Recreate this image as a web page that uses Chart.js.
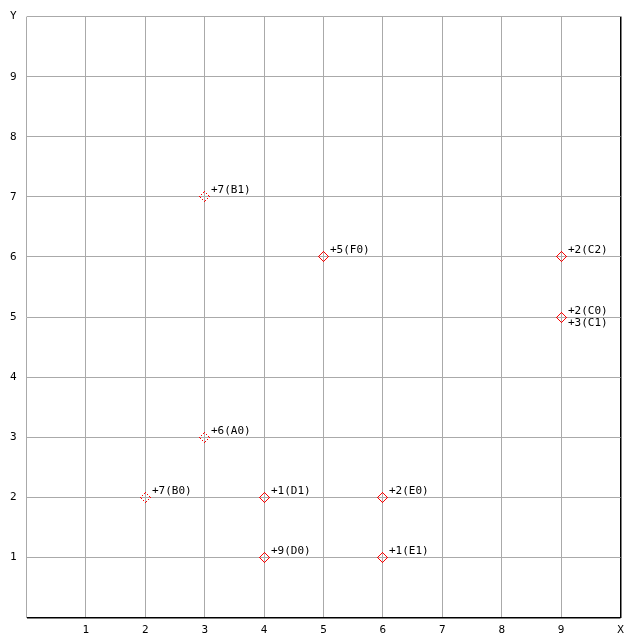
<!DOCTYPE html>
<html>
<head>
<meta charset="utf-8">
<script src="https://cdn.jsdelivr.net/npm/chart.js@4"></script>
<style>
  html, body { margin: 0; padding: 0; background: #fff; }
  #wrap { width: 640px; height: 640px; }
</style>
</head>
<body>
<div id="wrap"><canvas id="chart"></canvas></div>
<script>
// points
const pointNames = ['A0', 'B0', 'B1', 'C0', 'C1', 'C2', 'D0', 'D1', 'E0', 'E1', 'F0'];
const xValues = [3, 2, 3, 9, 9, 9, 4, 4, 6, 6, 5];
const yValues = [3, 2, 7, 5, 5, 6, 1, 2, 2, 1, 6];
const counts = [6, 7, 7, 2, 3, 2, 9, 1, 2, 1, 5];

const xTickLabels = ['', '1', '2', '3', '4', '5', '6', '7', '8', '9', 'X'];
const yTickLabels = ['', '1', '2', '3', '4', '5', '6', '7', '8', '9', 'Y'];

// groups drawn with the dotted marker
const dottedGroups = ['A', 'B'];

const FONT = { family: '"DejaVu Sans Mono", monospace', size: 11 };
const GRID = '#aaaaaa';

// small pixel diamond used as marker
function diamond(r, dotted) {
  const c = document.createElement('canvas');
  c.width = c.height = 2 * r + 1;
  const g = c.getContext('2d');
  g.fillStyle = '#ff0000';
  const put = (px, py, i) => {
    if (dotted && i % 2 === 1) return;
    g.fillRect(px, py, 1, 1);
  };
  for (let i = 0; i < r; i++) {
    put(r + i, i, i);
    put(2 * r - i, r + i, i);
    put(r - i, 2 * r - i, i);
    put(i, r - i, i);
  }
  return c;
}

function buildPoints(dotted) {
  const out = [];
  pointNames.forEach((name, i) => {
    if (dottedGroups.includes(name[0]) === dotted) {
      out.push({ x: xValues[i], y: yValues[i], name: name, count: counts[i], idx: i });
    }
  });
  return out;
}

// put the marker images on the same pixel as the grid lines
const snapPoints = {
  id: 'snapPoints',
  beforeDatasetsDraw(chart) {
    chart.data.datasets.forEach((ds, di) => {
      chart.getDatasetMeta(di).data.forEach(el => {
        el.x = Math.round(el.x - 0.5) + 0.5;
        el.y = Math.round(el.y - 0.5) + 0.5;
      });
    });
  }
};

const pointLabels = {
  id: 'pointLabels',
  afterDatasetsDraw(chart) {
    const ctx = chart.ctx;
    ctx.save();
    ctx.font = FONT.size + 'px ' + FONT.family;
    ctx.fillStyle = '#000';
    ctx.textAlign = 'left';
    ctx.textBaseline = 'middle';
    chart.data.datasets.forEach((ds, di) => {
      const meta = chart.getDatasetMeta(di);
      meta.data.forEach((el, j) => {
        const p = ds.data[j];
        // a second point on the same spot gets its label below
        let shared = false;
        for (let k = 0; k < p.idx; k++) {
          if (xValues[k] === p.x && yValues[k] === p.y) shared = true;
        }
        const dy = shared ? 6 : -6;
        ctx.fillText('+' + p.count + '(' + p.name + ')', el.x + 6.5, el.y + dy);
      });
    });
    ctx.restore();
  }
};

new Chart(document.getElementById('chart'), {
  type: 'scatter',
  data: {
    datasets: [
      { data: buildPoints(true), pointStyle: diamond(5, true), pointRadius: 5 },
      { data: buildPoints(false), pointStyle: diamond(5, false), pointRadius: 5 }
    ]
  },
  options: {
    responsive: true,
    maintainAspectRatio: false,
    animation: false,
    layout: { padding: { top: 15.5, right: 19.5, left: 0, bottom: 0 } },
    plugins: { legend: { display: false }, tooltip: { enabled: false } },
    scales: {
      x: {
        type: 'linear',
        min: 0,
        max: 10,
        border: { display: false },
        grid: {
          drawTicks: false,
          color: c => c.tick.value === 10 ? '#000' : GRID,
          lineWidth: c => c.tick.value === 10 ? 1.5 : 1
        },
        ticks: {
          stepSize: 1,
          padding: 6,
          color: '#000',
          font: FONT,
          maxRotation: 0,
          callback: v => xTickLabels[v]
        },
        afterFit: s => { s.height = 22.5; }
      },
      y: {
        type: 'linear',
        min: 0,
        max: 10,
        border: { display: false },
        grid: {
          drawTicks: false,
          color: c => c.tick.value === 0 ? '#000' : GRID,
          lineWidth: c => c.tick.value === 0 ? 1.5 : 1
        },
        ticks: {
          stepSize: 1,
          padding: 10,
          color: '#000',
          font: FONT,
          callback: v => yTickLabels[v]
        },
        afterFit: s => { s.width = 26.5; }
      }
    }
  },
  plugins: [snapPoints, pointLabels]
});
</script>
</body>
</html>
